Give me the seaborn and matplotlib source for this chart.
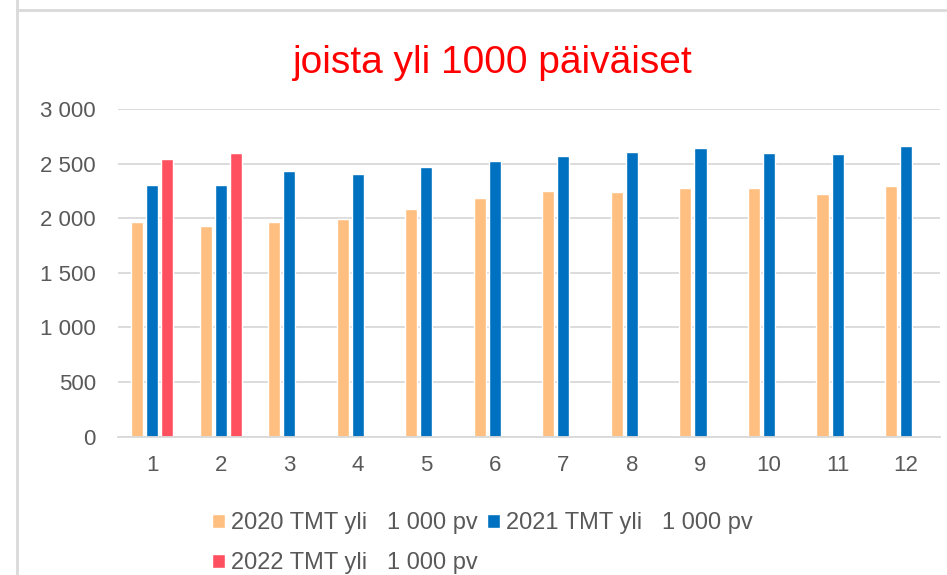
import pandas as pd
import numpy as np
import matplotlib.pyplot as plt
import seaborn as sns
from matplotlib.ticker import FuncFormatter
from matplotlib.lines import Line2D

# monthly values
kuukaudet = ['1', '2', '3', '4', '5', '6', '7', '8', '9', '10', '11', '12']
v2020 = [1967, 1927, 1967, 1995, 2083, 2188, 2252, 2237, 2274, 2274, 2221, 2298]
v2021 = [2307, 2307, 2430, 2405, 2467, 2525, 2574, 2610, 2644, 2598, 2589, 2660]
v2022 = [2546, 2598]

sarjat = ['2020 TMT yli   1 000 pv', '2021 TMT yli   1 000 pv', '2022 TMT yli   1 000 pv']
varit = ['#FFBF80', '#0070C0', '#FF5060']

rows = []
for kk, a in zip(kuukaudet, v2020):
    rows.append((kk, a, sarjat[0]))
for kk, a in zip(kuukaudet, v2021):
    rows.append((kk, a, sarjat[1]))
for kk, a in zip(kuukaudet, v2022):
    rows.append((kk, a, sarjat[2]))
df = pd.DataFrame(rows, columns=['kk', 'arvo', 'sarja'])

sns.set_style('white')
plt.rcParams['font.family'] = ['Liberation Sans', 'DejaVu Sans']

fig = plt.figure(figsize=(9.47, 5.75), dpi=100)
ax = fig.add_axes([0.1246, 0.2405, 0.8684, 0.5699])

sns.barplot(data=df, x='kk', y='arvo', hue='sarja', order=kuukaudet, hue_order=sarjat,
            palette=varit, width=0.66, gap=0.2, saturation=1, ax=ax)

ax.set_ylim(0, 3000)
ax.set_xlim(-0.5, 11.5)
ax.set_yticks(range(0, 3001, 500))
ax.yaxis.set_major_formatter(FuncFormatter(lambda v, p: f'{int(v):,}'.replace(',', ' ')))
ax.grid(axis='y', color='#D9D9D9', linewidth=1.3)
ax.set_axisbelow(True)
for s in ['top', 'right', 'left']:
    ax.spines[s].set_visible(False)
ax.spines['bottom'].set_color('#D9D9D9')
ax.spines['bottom'].set_linewidth(1.3)
ax.tick_params(axis='both', length=0, labelsize=16, labelcolor='#595959')
ax.tick_params(axis='x', pad=13)
ax.tick_params(axis='y', pad=16)
ax.set_xlabel('')
ax.set_ylabel('')

handles, labels = ax.get_legend_handles_labels()
ax.get_legend().remove()
order = [0, 2, 1]
fig.legend([handles[i] for i in order], [labels[i] for i in order], ncol=2,
           loc='upper left', bbox_to_anchor=(0.211, 0.13), frameon=False,
           fontsize=17, labelcolor='#595959', handlelength=0.55, handleheight=0.55,
           handletextpad=0.25, columnspacing=0.42, labelspacing=0.76, borderpad=0)

fig.text(0.52, 0.873, 'joista yli 1000 päiväiset', color='#FF0000', fontsize=28,
         ha='center', va='baseline')

# screenshot frame lines
fig.add_artist(Line2D([0.018, 0.018], [0, 1], color='#D9D9D9', linewidth=2))
fig.add_artist(Line2D([0.018, 1], [0.982, 0.982], color='#D9D9D9', linewidth=2))

fig.savefig('out.png', dpi=100)
